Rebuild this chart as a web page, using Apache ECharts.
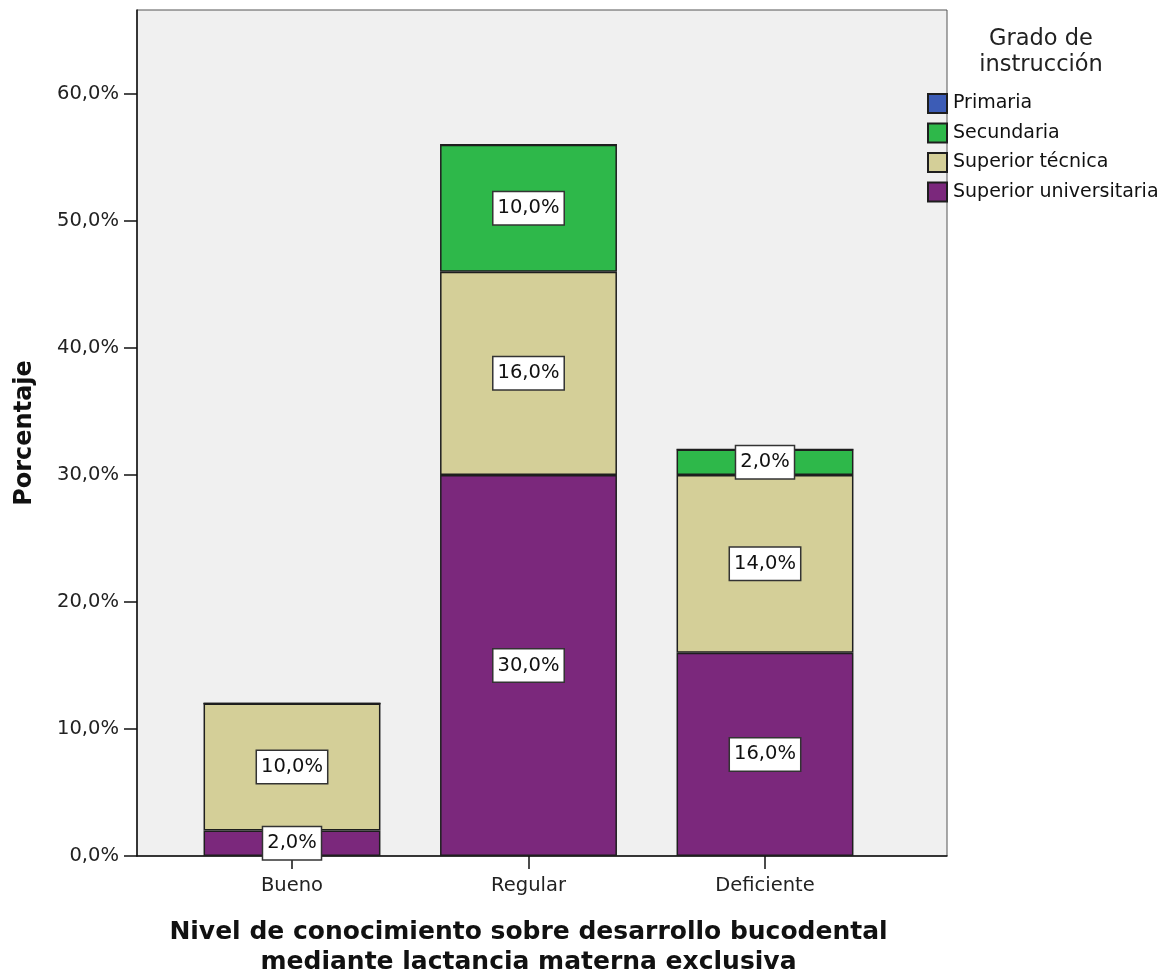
<!DOCTYPE html>
<html>
<head>
<meta charset="utf-8">
<script src="https://cdn.jsdelivr.net/npm/echarts@6/dist/echarts.min.js"></script>
<style>
  html, body { margin: 0; padding: 0; background: #fff; overflow: hidden; }
  #chart { width: 1168px; height: 975px; }
</style>
</head>
<body>
<div id="chart"></div>
<script>
// Knowledge level categories
const categories = ['Bueno', 'Regular', 'Deficiente'];

// Percentages by education level (stacked bottom-up)
const superiorUniversitaria = [2, 30, 16];
const superiorTecnica = [10, 16, 14];
const secundaria = [0, 10, 2];
const primaria = [0, 0, 0];

// Y axis tick values (percent)
const yTicks = [0, 10, 20, 30, 40, 50, 60];

const legendOrder = ['Primaria', 'Secundaria', 'Superior técnica', 'Superior universitaria'];

const FONT = 'DejaVu Sans';
const Y_MAX = 66.6;
const PLOT_TOP = 10;
const PLOT_HEIGHT = 846;

function fmt(v) {
  return v.toFixed(1).replace('.', ',') + '%';
}

function makeSeries(name, values, color) {
  return {
    name: name,
    type: 'bar',
    stack: 'total',
    xAxisIndex: 1,
    yAxisIndex: 1,
    barWidth: '74.8%',
    itemStyle: { color: color, borderColor: '#1e1e1e', borderWidth: 1.5 },
    emphasis: { disabled: true },
    data: values.map(v => ({
      value: v,
      label: { show: v > 0 }
    })),
    label: {
      position: 'inside',
      formatter: p => fmt(p.value),
      fontFamily: FONT,
      fontSize: 19.5,
      color: '#111',
      backgroundColor: '#ffffff',
      borderColor: '#333',
      borderWidth: 1.5,
      padding: [7, 4, 5, 4]
    }
  };
}

const chart = echarts.init(document.getElementById('chart'), null, { renderer: 'canvas' });

chart.setOption({
  animation: false,
  backgroundColor: '#ffffff',
  textStyle: { fontFamily: FONT },
  title: {
    text: 'Grado de\ninstrucción',
    left: 1041,
    top: 26,
    padding: 0,
    textAlign: 'center',
    textStyle: {
      fontFamily: FONT,
      fontWeight: 'normal',
      fontSize: 22.5,
      lineHeight: 26,
      color: '#222'
    }
  },
  legend: {
    data: legendOrder,
    orient: 'vertical',
    left: 927,
    top: 93,
    padding: 0,
    itemWidth: 19,
    itemHeight: 19,
    itemGap: 8.5,
    icon: 'rect',
    textStyle: { fontFamily: FONT, fontSize: 19, color: '#111', padding: [0, 0, 0, 1] }
  },
  grid: [
    {
      // frame: background, y axis and baseline
      left: 137,
      top: PLOT_TOP,
      width: 810,
      height: PLOT_HEIGHT,
      outerBoundsMode: 'none',
      show: true,
      backgroundColor: '#f0f0f0',
      borderColor: '#555',
      borderWidth: 1
    },
    {
      // bar area with category positions
      left: 173.75,
      top: PLOT_TOP,
      width: 709.5,
      height: PLOT_HEIGHT,
      outerBoundsMode: 'none',
      show: false
    }
  ],
  xAxis: [
    {
      gridIndex: 0,
      type: 'value',
      min: 0,
      max: 1,
      axisLine: { show: true, onZero: false, lineStyle: { color: '#111', width: 1.5 } },
      axisTick: { show: false },
      axisLabel: { show: false },
      splitLine: { show: false }
    },
    {
      gridIndex: 1,
      type: 'category',
      data: categories,
      name: 'Nivel de conocimiento sobre desarrollo bucodental\nmediante lactancia materna exclusiva',
      nameLocation: 'middle',
      nameGap: 61,
      nameTextStyle: {
        fontFamily: FONT,
        fontWeight: 'bold',
        fontSize: 25,
        lineHeight: 30,
        color: '#111'
      },
      axisLine: { show: false },
      axisTick: { show: true, alignWithLabel: true, length: 13, lineStyle: { color: '#111', width: 1.5 } },
      axisLabel: { fontFamily: FONT, fontSize: 19.5, color: '#222', margin: 20 }
    }
  ],
  yAxis: [
    {
      gridIndex: 0,
      type: 'value',
      min: 0,
      max: Y_MAX,
      interval: 10,
      name: 'Porcentaje',
      nameLocation: 'middle',
      nameGap: 100,
      nameTextStyle: {
        fontFamily: FONT,
        fontWeight: 'bold',
        fontSize: 24,
        color: '#111'
      },
      splitLine: { show: false },
      axisLine: { show: true, lineStyle: { color: '#111', width: 1.5 } },
      axisTick: { show: true, length: 13, customValues: yTicks, lineStyle: { color: '#111', width: 1.5 } },
      axisLabel: {
        customValues: yTicks,
        fontFamily: FONT,
        fontSize: 19.5,
        color: '#222',
        margin: 18,
        formatter: v => fmt(v)
      }
    },
    {
      gridIndex: 1,
      type: 'value',
      min: 0,
      max: Y_MAX,
      show: false,
      splitLine: { show: false }
    }
  ],
  series: [
    makeSeries('Superior universitaria', superiorUniversitaria, '#7b287c'),
    makeSeries('Superior técnica', superiorTecnica, '#d4cf98'),
    makeSeries('Secundaria', secundaria, '#2eb84a'),
    makeSeries('Primaria', primaria, '#3c5cb6')
  ]
});
</script>
</body>
</html>
